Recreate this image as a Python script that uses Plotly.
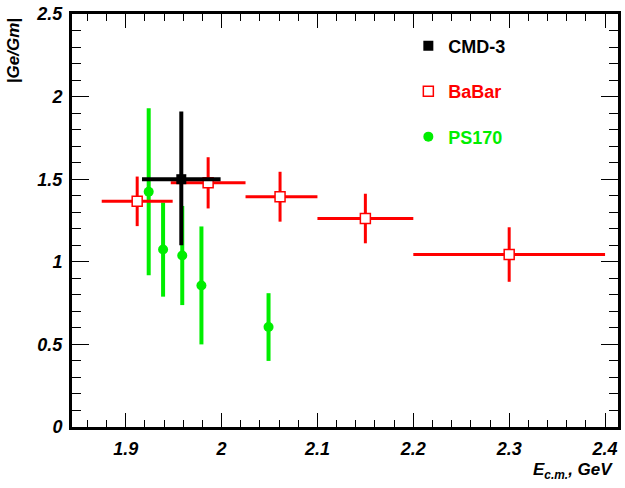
import plotly.graph_objects as go

# CMD-3
cmd_x = [1.958]
cmd_y = [1.50]
cmd_xerr = [0.041]
cmd_yerr_plus = [0.41]
cmd_yerr_minus = [0.40]

# BaBar
babar_x = [1.912, 1.986, 2.061, 2.150, 2.300]
babar_y = [1.366, 1.478, 1.394, 1.262, 1.044]
babar_xerr_plus = [0.037, 0.039, 0.039, 0.050, 0.100]
babar_xerr_minus = [0.037, 0.039, 0.036, 0.050, 0.100]
babar_yerr = [0.150, 0.155, 0.151, 0.150, 0.165]

# PS170
ps_x = [1.924, 1.939, 1.959, 1.979, 2.049]
ps_y = [1.424, 1.074, 1.038, 0.857, 0.605]
ps_yerr = [0.505, 0.285, 0.300, 0.357, 0.205]

x_ticks = [1.9, 2.0, 2.1, 2.2, 2.3, 2.4]
x_ticklabels = ["1.9", "2", "2.1", "2.2", "2.3", "2.4"]
y_ticks = [0, 0.5, 1, 1.5, 2, 2.5]
y_ticklabels = ["0", "0.5", "1", "1.5", "2", "2.5"]

RED = "#ff0000"
GREEN = "#00ee00"
BLACK = "#000000"

fig = go.Figure()

fig.add_trace(go.Scatter(
    x=ps_x, y=ps_y, mode="markers", name="<span style='color:#00ee00'>PS170</span>",
    legendgroup="ps", legendrank=3,
    marker=dict(symbol="circle", size=10, color=GREEN, line=dict(width=0)),
    error_y=dict(type="data", array=ps_yerr, color=GREEN, thickness=4, width=0),
))
fig.add_trace(go.Scatter(
    x=babar_x, y=babar_y, mode="markers", name="<span style='color:#ff0000'>BaBar</span>",
    legendgroup="babar", legendrank=2,
    marker=dict(symbol="square", size=10, color="white", line=dict(width=1.5, color=RED)),
    error_y=dict(type="data", array=babar_yerr, color=RED, thickness=3, width=0),
    error_x=dict(type="data", array=babar_xerr_plus, arrayminus=babar_xerr_minus,
                 color=RED, thickness=3, width=0),
))
fig.add_trace(go.Scatter(
    x=cmd_x, y=cmd_y, mode="markers", name="CMD-3",
    legendgroup="cmd", legendrank=1,
    marker=dict(symbol="square", size=10, color=BLACK),
    error_y=dict(type="data", array=cmd_yerr_plus, arrayminus=cmd_yerr_minus,
                 color=BLACK, thickness=4, width=0),
    error_x=dict(type="data", array=cmd_xerr, color=BLACK, thickness=4, width=0),
))

tickfont = dict(family="Liberation Sans", size=18, color="black", weight="bold", style="italic")

fig.update_xaxes(
    range=[1.844, 2.4135], tickvals=x_ticks, ticktext=x_ticklabels,
    showline=True, linewidth=3, linecolor="black", mirror="ticks",
    ticks="inside", ticklen=14, tickwidth=1, tickcolor="black",
    minor=dict(ticks="inside", ticklen=7, dtick=0.02, tickwidth=1, tickcolor="black"),
    showgrid=False, zeroline=False, tickfont=tickfont, ticklabelstandoff=3,
)
fig.update_yaxes(
    range=[0, 2.5], tickvals=y_ticks, ticktext=y_ticklabels,
    showline=True, linewidth=3, linecolor="black", mirror="ticks",
    ticks="inside", ticklen=17, tickwidth=1, tickcolor="black",
    minor=dict(ticks="inside", ticklen=9, dtick=0.1, tickwidth=1, tickcolor="black"),
    showgrid=False, zeroline=False, tickfont=tickfont, ticklabelstandoff=3,
)

fig.update_layout(
    width=625, height=488,
    margin=dict(l=72, r=4, t=11, b=61),
    plot_bgcolor="white", paper_bgcolor="white",
    showlegend=True,
    legend=dict(
        x=0.616, y=0.967, xanchor="left", yanchor="top",
        traceorder="grouped", tracegroupgap=19,
        font=dict(family="Liberation Sans", size=18, color="black", weight="bold"),
        bgcolor="rgba(0,0,0,0)", borderwidth=0,
    ),
    annotations=[
        dict(text="|Ge/Gm|", xref="paper", yref="paper", x=-0.107, y=0.995,
             xanchor="center", yanchor="top", textangle=-90, showarrow=False,
             font=dict(family="Liberation Sans", size=17, color="black", weight="bold", style="italic")),
        dict(text="E<sub>c.m.</sub>, GeV", xref="paper", yref="paper", x=0.994, y=-0.106,
             xanchor="right", yanchor="middle", showarrow=False,
             font=dict(family="Liberation Sans", size=17, color="black", weight="bold", style="italic")),
    ],
)

fig.write_html("out.html")
